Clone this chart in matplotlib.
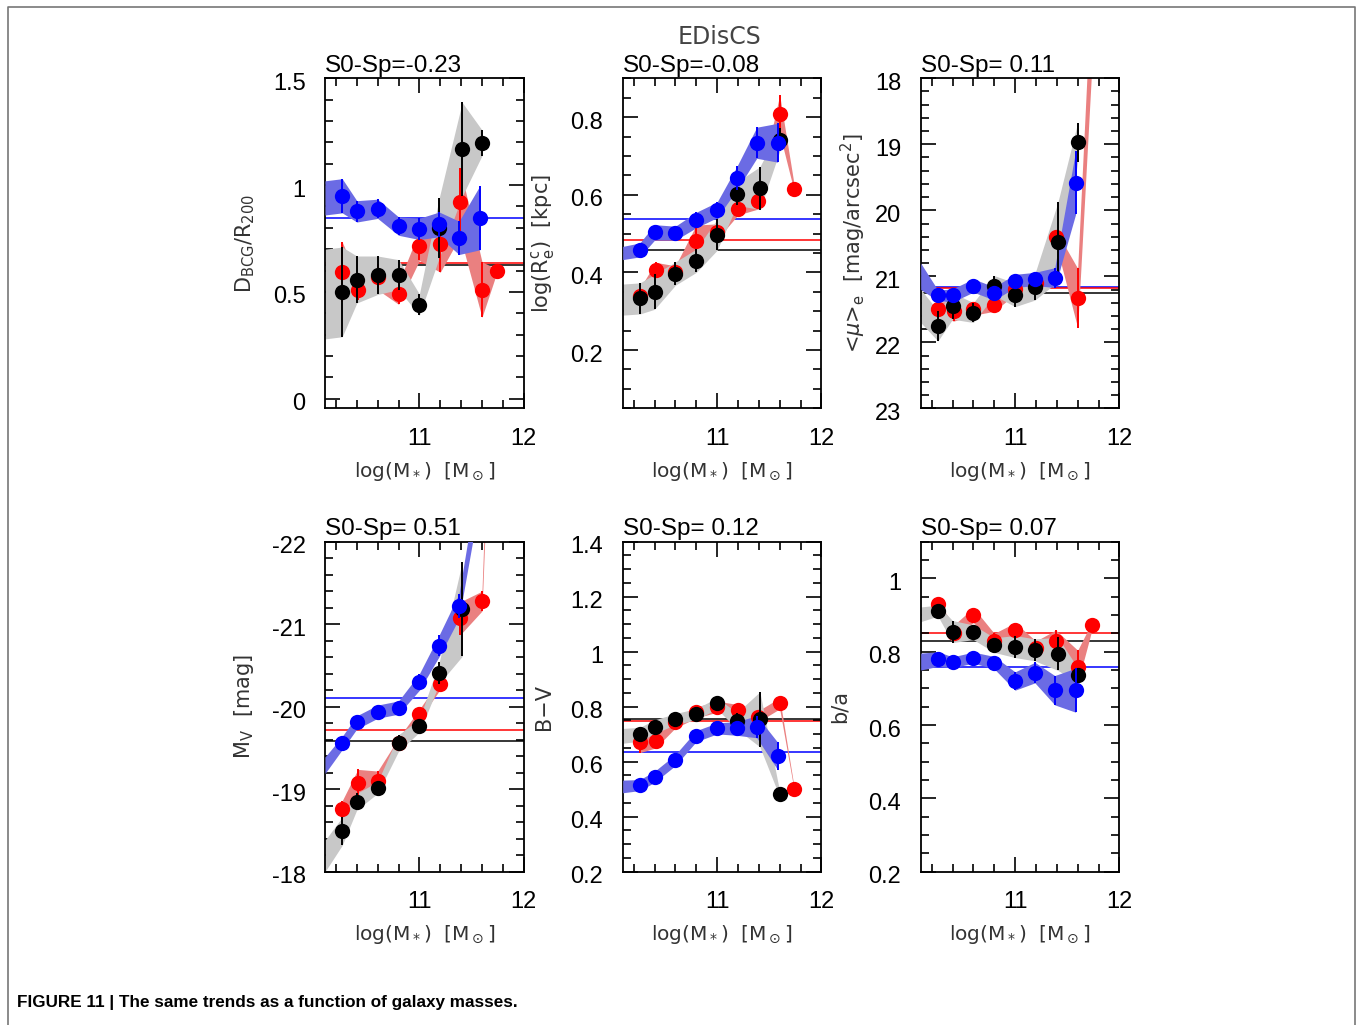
import numpy as np
import matplotlib
matplotlib.use("Agg")
import matplotlib.pyplot as plt
import matplotlib.transforms as mtransforms
from matplotlib.ticker import MultipleLocator, FuncFormatter
from matplotlib.lines import Line2D

plt.rcParams['font.family'] = ['Liberation Sans', 'DejaVu Sans']
plt.rcParams['mathtext.fontset'] = 'dejavusans'

# bin centres, log(M*) -- spirals, S0s, all
sp_x = [10.26, 10.40, 10.60, 10.80, 11.00, 11.19, 11.38, 11.58]
s0_x = [10.26, 10.41, 10.60, 10.80, 11.00, 11.20, 11.39, 11.60, 11.74]
all_x = [10.26, 10.40, 10.60, 10.80, 11.00, 11.19, 11.41, 11.60]

# D_BCG / R200
dbcg_sp = [0.95, 0.877, 0.889, 0.808, 0.795, 0.816, 0.753, 0.847]
dbcg_sp_err = [0.08, 0.05, 0.045, 0.043, 0.05, 0.058, 0.078, 0.15]
dbcg_sp_start = (0.94, 0.08)
dbcg_s0 = [0.594, 0.511, 0.57, 0.492, 0.717, 0.722, 0.92, 0.511, 0.597]
dbcg_s0_err = [0.14, 0.05, 0.06, 0.05, 0.07, 0.13, 0.16, 0.13, 0.01]
dbcg_all = [0.50, 0.558, 0.578, 0.581, 0.44, 0.80, 1.167, 1.198]
dbcg_all_err = [0.21, 0.11, 0.09, 0.07, 0.05, 0.14, 0.22, 0.06]
dbcg_all_start = (0.49, 0.21)
dbcg_mean = [0.847, 0.633, 0.625]

# log(Re)
re_sp = [0.458, 0.503, 0.501, 0.535, 0.561, 0.643, 0.734, 0.734]
re_sp_err = [0.018, 0.02, 0.018, 0.02, 0.02, 0.03, 0.04, 0.05]
re_sp_start = (0.45, 0.017)
re_s0 = [0.339, 0.406, 0.402, 0.482, 0.505, 0.563, 0.583, 0.807, 0.616]
re_s0_err = [0.02, 0.02, 0.015, 0.04, 0.02, 0.015, 0.02, 0.05, 0.008]
re_all = [0.333, 0.35, 0.397, 0.43, 0.497, 0.603, 0.617, 0.742]
re_all_err = [0.04, 0.045, 0.03, 0.03, 0.04, 0.03, 0.055, 0.03]
re_all_start = (0.33, 0.04)
re_mean = [0.537, 0.484, 0.458]

# <mu>_e
mu_sp = [21.29, 21.29, 21.14, 21.26, 21.07, 21.04, 21.02, 19.58]
mu_sp_err = [0.08, 0.1, 0.1, 0.1, 0.1, 0.1, 0.15, 0.48]
mu_sp_start = (21.0, 0.2)
mu_s0 = [21.49, 21.53, 21.49, 21.43, 21.19, 21.10, 20.40, 21.33, 17.0]
mu_s0_err = [0.1, 0.15, 0.1, 0.1, 0.08, 0.1, 0.1, 0.45, 0.7]
mu_all = [21.75, 21.45, 21.55, 21.14, 21.28, 21.16, 20.48, 18.97]
mu_all_err = [0.23, 0.2, 0.15, 0.15, 0.18, 0.2, 0.6, 0.3]
mu_all_start = (21.45, 0.25)
mu_mean = [21.16, 21.17, 21.26]

# M_V
mv_sp = [-19.56, -19.81, -19.94, -19.99, -20.30, -20.74, -21.22, -22.7]
mv_sp_err = [0.08, 0.08, 0.08, 0.08, 0.1, 0.13, 0.15, 0.2]
mv_sp_start = (-19.29, 0.1)
mv_s0 = [-18.76, -19.07, -19.10, -19.56, -19.91, -20.27, -21.07, -21.28, -26.0]
mv_s0_err = [0.1, 0.17, 0.12, 0.06, 0.06, 0.06, 0.2, 0.12, 0.3]
mv_all = [-18.49, -18.85, -19.02, -19.56, -19.77, -20.41, -21.18, np.nan]
mv_all_err = [0.17, 0.1, 0.07, 0.1, 0.08, 0.13, 0.57, 0.0]
mv_all_start = (-18.19, 0.19)
mv_mean = [-20.10, -19.72, -19.59]

# B-V
bv_sp = [0.515, 0.545, 0.606, 0.693, 0.721, 0.721, 0.727, 0.621]
bv_sp_err = [0.02, 0.02, 0.02, 0.02, 0.02, 0.025, 0.04, 0.05]
bv_sp_start = (0.51, 0.023)
bv_s0 = [0.673, 0.675, 0.743, 0.779, 0.80, 0.788, 0.764, 0.812, 0.499]
bv_s0_err = [0.04, 0.025, 0.02, 0.02, 0.02, 0.02, 0.02, 0.02, 0.005]
bv_all = [0.70, 0.727, 0.755, 0.773, 0.812, 0.748, 0.754, 0.482]
bv_all_err = [0.025, 0.025, 0.02, 0.02, 0.02, 0.03, 0.1, 0.01]
bv_all_start = (0.694, 0.027)
bv_mean = [0.634, 0.749, 0.754]

# b/a
ba_sp = [0.78, 0.771, 0.784, 0.77, 0.72, 0.743, 0.695, 0.695]
ba_sp_err = [0.02, 0.015, 0.015, 0.017, 0.025, 0.028, 0.04, 0.06]
ba_sp_start = (0.773, 0.023)
ba_s0 = [0.929, 0.852, 0.90, 0.83, 0.859, 0.809, 0.829, 0.759, 0.873]
ba_s0_err = [0.01, 0.02, 0.02, 0.02, 0.02, 0.02, 0.03, 0.045, 0.01]
ba_all = [0.912, 0.855, 0.853, 0.818, 0.814, 0.805, 0.794, 0.736]
ba_all_err = [0.015, 0.03, 0.02, 0.02, 0.03, 0.03, 0.045, 0.02]
ba_all_start = (0.902, 0.02)
ba_mean = [0.759, 0.852, 0.830]

titles = ['S0-Sp=-0.23', 'S0-Sp=-0.08', 'S0-Sp= 0.11',
          'S0-Sp= 0.51', 'S0-Sp= 0.12', 'S0-Sp= 0.07']
ylabels = [r'D$_{\rm BCG}$/R$_{200}$', r'log(R$_{\rm e}^{\rm c}$)  [kpc]',
           r'<$\mu$>$_{\rm e}$  [mag/arcsec$^2$]', r'M$_{\rm V}$  [mag]',
           'B\u2212V', 'b/a']
xlabel = r'log(M$_*$)  [M$_\odot$]'

panels = [
    dict(sp=(dbcg_sp, dbcg_sp_err, dbcg_sp_start), s0=(dbcg_s0, dbcg_s0_err, None),
         all=(dbcg_all, dbcg_all_err, dbcg_all_start), mean=dbcg_mean,
         ylim=(-0.045, 1.5), major=0.5, minor=0.1, labx=-0.40),
    dict(sp=(re_sp, re_sp_err, re_sp_start), s0=(re_s0, re_s0_err, None),
         all=(re_all, re_all_err, re_all_start), mean=re_mean,
         ylim=(0.05, 0.9), major=0.2, minor=0.05, labx=-0.40),
    dict(sp=(mu_sp, mu_sp_err, mu_sp_start), s0=(mu_s0, mu_s0_err, None),
         all=(mu_all, mu_all_err, mu_all_start), mean=mu_mean,
         ylim=(23, 18), major=1, minor=0.2, labx=-0.34),
    dict(sp=(mv_sp, mv_sp_err, mv_sp_start), s0=(mv_s0, mv_s0_err, None),
         all=(mv_all, mv_all_err, mv_all_start), mean=mv_mean,
         ylim=(-18, -22), major=1, minor=0.2, labx=-0.41),
    dict(sp=(bv_sp, bv_sp_err, bv_sp_start), s0=(bv_s0, bv_s0_err, None),
         all=(bv_all, bv_all_err, bv_all_start), mean=bv_mean,
         ylim=(0.2, 1.4), major=0.2, minor=0.05, labx=-0.395),
    dict(sp=(ba_sp, ba_sp_err, ba_sp_start), s0=(ba_s0, ba_s0_err, None),
         all=(ba_all, ba_all_err, ba_all_start), mean=ba_mean,
         ylim=(0.2, 1.1), major=0.2, minor=0.05, labx=-0.41),
]

XMIN, XMAX = 10.095, 12.0
BLUE_BAND, RED_BAND, GREY_BAND = '#6b6be4', '#ea8080', '#c8c8c8'


def draw_series(ax, x, y, e, start, band, col, z):
    x = np.array(x, float)
    y = np.array(y, float)
    e = np.array(e, float)
    ok = ~np.isnan(y)
    x, y, e = x[ok], y[ok], e[ok]
    bx, lo, hi = x, y - e, y + e
    if start is not None:
        bx = np.r_[XMIN, bx]
        lo = np.r_[start[0] - start[1], lo]
        hi = np.r_[start[0] + start[1], hi]
    ax.fill_between(bx, lo, hi, color=band, lw=0, zorder=z)
    ax.errorbar(x, y, yerr=e, fmt='o', color=col, ms=11, mew=0,
                elinewidth=1.4, capsize=0, zorder=z + 4)


fig = plt.figure(figsize=(13.6, 10.25), dpi=100)

lefts = [325, 622.7, 920.7]
tops = [78.3, 541.7]
W, H = 1360.0, 1025.0
aw, ah = 198.7, 330.0
shift_down = mtransforms.ScaledTranslation(0, -3 / 100, fig.dpi_scale_trans)

for i, p in enumerate(panels):
    r, c = divmod(i, 3)
    ax = fig.add_axes([lefts[c] / W, 1 - (tops[r] + ah) / H, aw / W, ah / H])

    for val, col in zip(p['mean'], ['blue', 'red', 'black']):
        ax.axhline(val, color=col, lw=1.1, zorder=1)

    draw_series(ax, all_x, *p['all'], GREY_BAND, 'black', 2)
    draw_series(ax, s0_x, *p['s0'], RED_BAND, 'red', 1.5)
    draw_series(ax, sp_x, *p['sp'], BLUE_BAND, 'blue', 3)

    ax.set_xlim(XMIN, XMAX)
    ax.set_ylim(*p['ylim'])
    ax.xaxis.set_major_locator(MultipleLocator(1))
    ax.xaxis.set_minor_locator(MultipleLocator(0.2))
    ax.yaxis.set_major_locator(MultipleLocator(p['major']))
    ax.yaxis.set_minor_locator(MultipleLocator(p['minor']))
    ax.yaxis.set_major_formatter(FuncFormatter(lambda v, pos: '%g' % round(v, 3)))
    ax.xaxis.set_major_formatter(FuncFormatter(lambda v, pos: '%g' % v))
    ax.tick_params(which='both', direction='in', top=True, right=True,
                   width=1.2, labelsize=17, pad=14)
    ax.tick_params(which='major', length=11)
    ax.tick_params(which='minor', length=6)
    for lab in ax.get_yticklabels():
        lab.set_transform(lab.get_transform() + shift_down)
    for s in ax.spines.values():
        s.set_linewidth(1.3)

    ax.text(0.0, 1.02, titles[i], transform=ax.transAxes, fontsize=17.5,
            ha='left', va='baseline')
    ax.text(0.5, -0.19, xlabel, transform=ax.transAxes, fontsize=14.5,
            ha='center', va='center', color='#333333', family='DejaVu Sans')
    ax.text(p['labx'], 0.5, ylabels[i], transform=ax.transAxes, fontsize=15,
            rotation=90, ha='center', va='center', color='#333333',
            family='DejaVu Sans')

fig.text(719 / W, 1 - 37 / H, 'EDisCS', ha='center', va='center',
         fontsize=17, color='#444444', family='DejaVu Sans')
fig.text(17 / W, 1 - 1003 / H, 'FIGURE 11 | The same trends as a function of galaxy masses.',
         ha='left', va='center', fontsize=12.3, fontweight='bold')

# frame around the figure
bx = [8 / W, 8 / W, 1355 / W, 1355 / W]
by = [0, 1 - 7 / H, 1 - 7 / H, 0]
fig.add_artist(Line2D(bx, by, color='#777777', lw=1.2, transform=fig.transFigure))

fig.savefig('out.png', dpi=100)
